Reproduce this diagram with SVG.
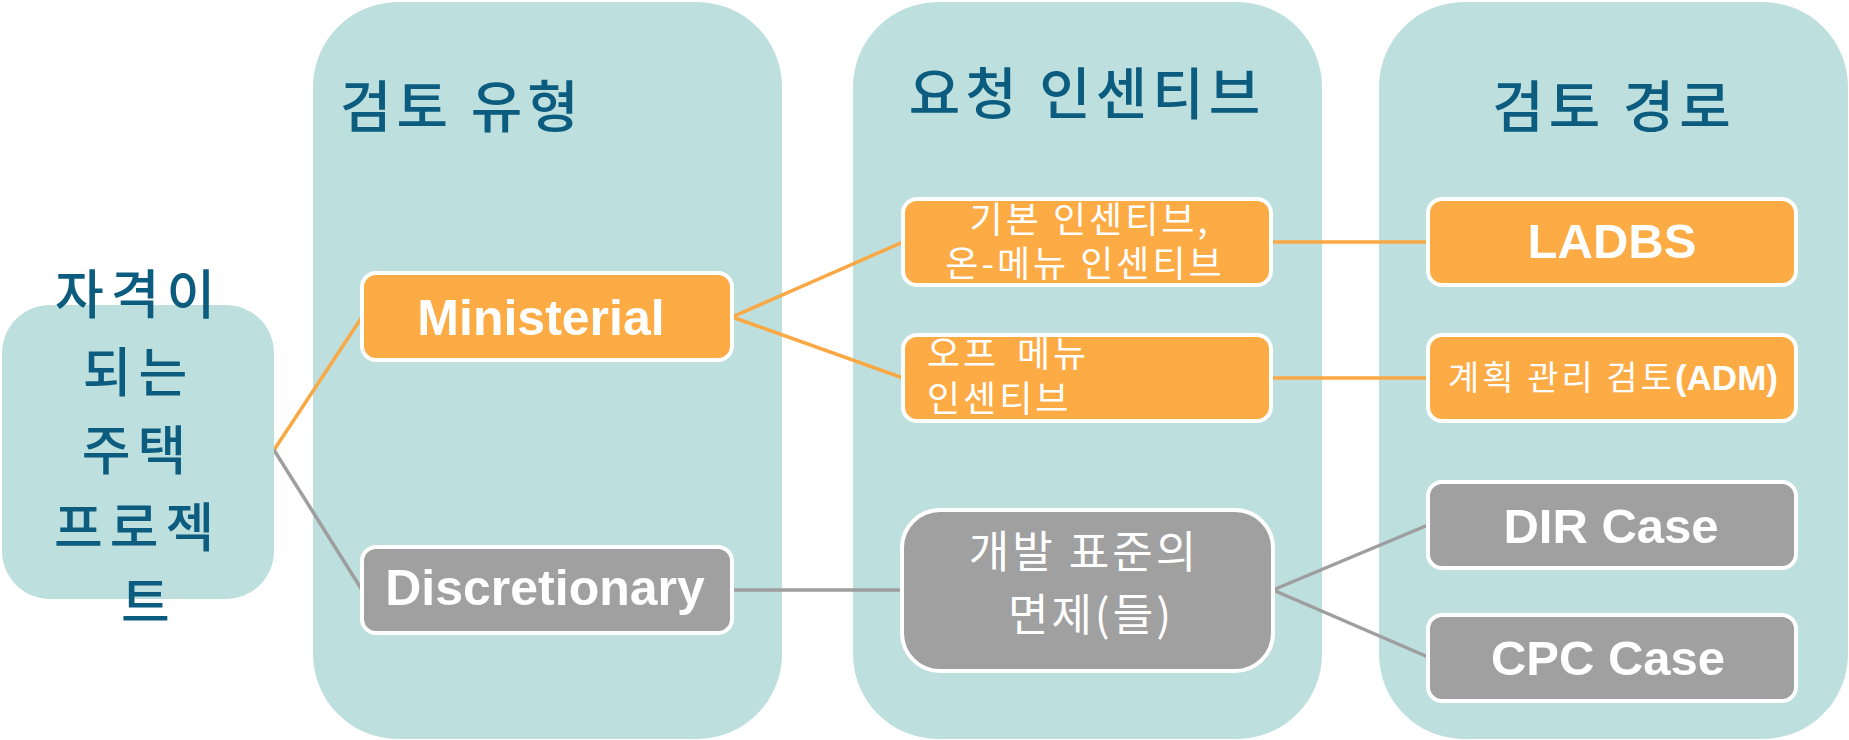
<svg xmlns="http://www.w3.org/2000/svg" width="1849" height="740" viewBox="0 0 1849 740">
<style>
.panel{fill:#BDDFDE;}
.title{font-family:"Noto Sans CJK KR","Noto Sans",sans-serif;font-size:56px;fill:#0B5C7E;font-weight:500;letter-spacing:5px;}
.ob{fill:#FDAB45;stroke:#FFFFFF;stroke-width:4;}
.gb{fill:#A0A0A0;stroke:#FFFFFF;stroke-width:4;}
.en{font-family:"Liberation Sans",Arial,sans-serif;font-weight:bold;font-size:49px;fill:#FFFFFF;text-anchor:middle;}
.ko{font-family:"Noto Sans CJK KR",sans-serif;fill:#FFFFFF;}
.lo{stroke:#F9A843;stroke-width:3.5;fill:none;}
.lg{stroke:#9E9E9E;stroke-width:3.5;fill:none;}
</style>
<rect width="1849" height="740" fill="#FFFFFF"/>
<g id="panel-review-type">
<rect class="panel" x="313" y="2" width="469" height="737" rx="85"/>
<text class="title" x="340" y="127">검토 유형</text>
</g>
<g id="panel-incentive">
<rect class="panel" x="853" y="2" width="469" height="737" rx="85"/>
<text class="title" x="1087" y="114" text-anchor="middle">요청 인센티브</text>
</g>
<g id="panel-path">
<rect class="panel" x="1379" y="2" width="469" height="737" rx="85"/>
<text class="title" x="1614" y="127" text-anchor="middle">검토 경로</text>
</g>
<g id="connectors">
<line class="lo" x1="274" y1="450" x2="362" y2="317"/>
<line class="lg" x1="274" y1="450" x2="362" y2="590"/>
<line class="lo" x1="732" y1="317" x2="903" y2="242"/>
<line class="lo" x1="732" y1="317" x2="903" y2="378"/>
<line class="lo" x1="1271" y1="242" x2="1428" y2="242"/>
<line class="lo" x1="1271" y1="378" x2="1428" y2="378"/>
<line class="lg" x1="732" y1="590" x2="902" y2="590"/>
<line class="lg" x1="1273" y1="590" x2="1428" y2="525"/>
<line class="lg" x1="1273" y1="590" x2="1428" y2="657"/>
</g>
<g id="eligible">
<rect class="panel" x="2" y="305" width="272" height="294" rx="48"/>
<text style="font-family:'Noto Sans CJK KR',sans-serif;font-size:53px;font-weight:500;letter-spacing:7px" fill="#0B5C7E" text-anchor="middle">
<tspan x="148" y="314">자격이</tspan>
<tspan x="148" y="392">되는</tspan>
<tspan x="147" y="470">주택</tspan>
<tspan x="147" y="547">프로젝</tspan>
<tspan x="149" y="622">트</tspan>
</text>
</g>
<g id="ministerial">
<rect class="ob" x="362" y="273" width="370" height="87" rx="14"/>
<text class="en" x="541" y="335" style="font-size:50px">Ministerial</text>
</g>
<g id="discretionary">
<rect class="gb" x="362" y="547" width="370" height="86" rx="14"/>
<text class="en" x="545" y="605" style="font-size:50px">Discretionary</text>
</g>
<g id="base-incentive">
<rect class="ob" x="903" y="199" width="368" height="86" rx="14"/>
<text class="ko" text-anchor="middle" style="font-size:36px;letter-spacing:3px"><tspan x="1090" y="233">기본 인센티브,</tspan><tspan x="1085" y="277">온-메뉴 인센티브</tspan></text>
</g>
<g id="off-menu">
<rect class="ob" x="903" y="335" width="368" height="86" rx="14"/>
<text class="ko" style="font-size:36px;letter-spacing:3px"><tspan x="927" y="367">오프</tspan><tspan x="1017" y="367">메뉴</tspan><tspan x="927" y="412">인센티브</tspan></text>
</g>
<g id="waiver">
<rect class="gb" x="902" y="510" width="371" height="161" rx="38"/>
<text class="ko" text-anchor="middle" style="font-size:44px;letter-spacing:3px"><tspan x="1084" y="568">개발 표준의</tspan><tspan x="1091" y="631">면제(들)</tspan></text>
</g>
<g id="ladbs">
<rect class="ob" x="1428" y="199" width="368" height="86" rx="14"/>
<text class="en" x="1612" y="258">LADBS</text>
</g>
<g id="adm">
<rect class="ob" x="1428" y="335" width="368" height="86" rx="14"/>
<text x="1613" y="390" text-anchor="middle" fill="#FFFFFF"><tspan style="font-family:'Noto Sans CJK KR',sans-serif;font-size:34px;letter-spacing:3px">계획 관리 검토</tspan><tspan style="font-family:'Liberation Sans',Arial,sans-serif;font-weight:bold;font-size:35px">(ADM)</tspan></text>
</g>
<g id="dir">
<rect class="gb" x="1428" y="482" width="368" height="86" rx="14"/>
<text class="en" x="1611" y="543">DIR Case</text>
</g>
<g id="cpc">
<rect class="gb" x="1428" y="615" width="368" height="86" rx="14"/>
<text class="en" x="1608" y="675">CPC Case</text>
</g>
</svg>
